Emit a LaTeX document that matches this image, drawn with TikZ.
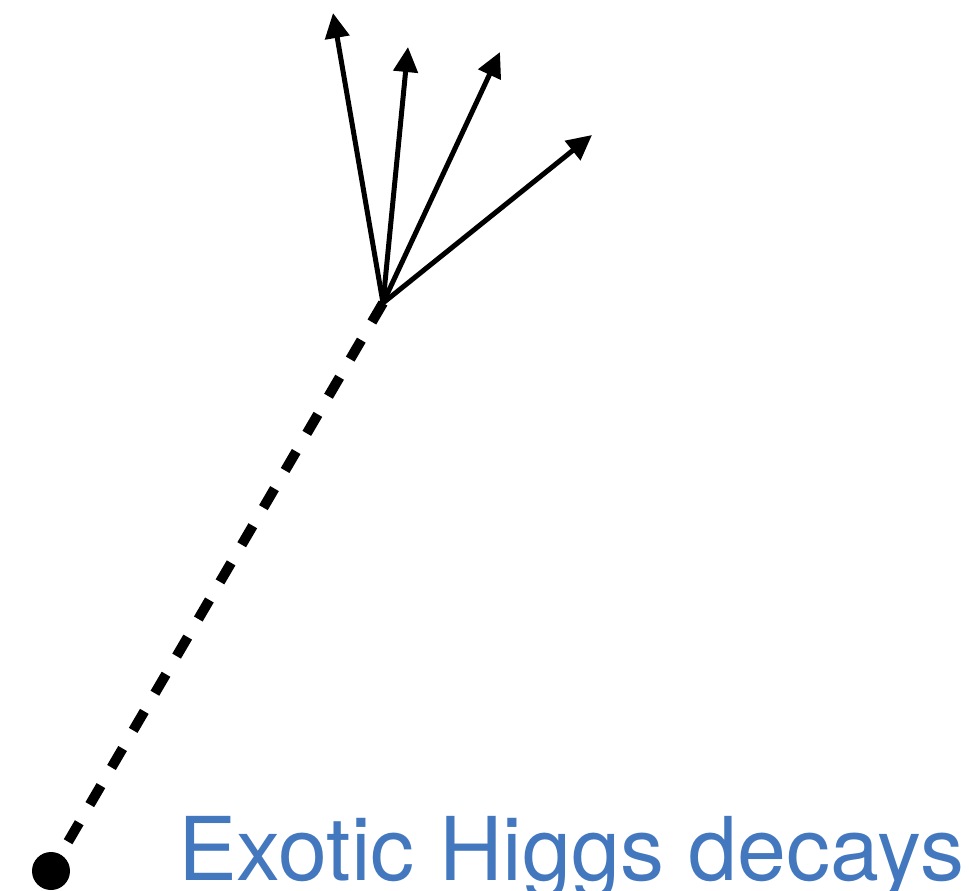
\documentclass[tikz,border=0pt]{standalone}
\usepackage{fontspec}
\setmainfont{TeX Gyre Heros}
\usetikzlibrary{arrows.meta}
\definecolor{higgsblue}{RGB}{68,120,190}
\tikzset{
  jet/.style={line width=5pt,-{Triangle[length=25pt,width=24pt]}},
  scalar/.style={line width=10pt,dash pattern=on 22pt off 21pt},
  vtxdot/.style={circle,fill=black,inner sep=0pt,minimum size=38pt},
  lbl/.style={text=higgsblue,inner sep=0pt,font=\fontsize{88}{88}\selectfont}
}
\begin{document}
\begin{tikzpicture}[x=1pt,y=-1pt]
\useasboundingbox (0,0) rectangle (969,891);
\coordinate (v) at (383,303);
\node[vtxdot] (d) at (51,871) {};
\coordinate (t1) at (333,13);
\coordinate (t2) at (408,47);
\coordinate (t3) at (500,52);
\coordinate (t4) at (592,135);
\draw[scalar] (v) -- (d.center);
\draw[jet] (v) -- (t1);
\draw[jet] (v) -- (t2);
\draw[jet] (v) -- (t3);
\draw[jet] (v) -- (t4);
\node[lbl,anchor=base west] (l) at (178,880) {Exotic Higgs decays};
\end{tikzpicture}
\end{document}
